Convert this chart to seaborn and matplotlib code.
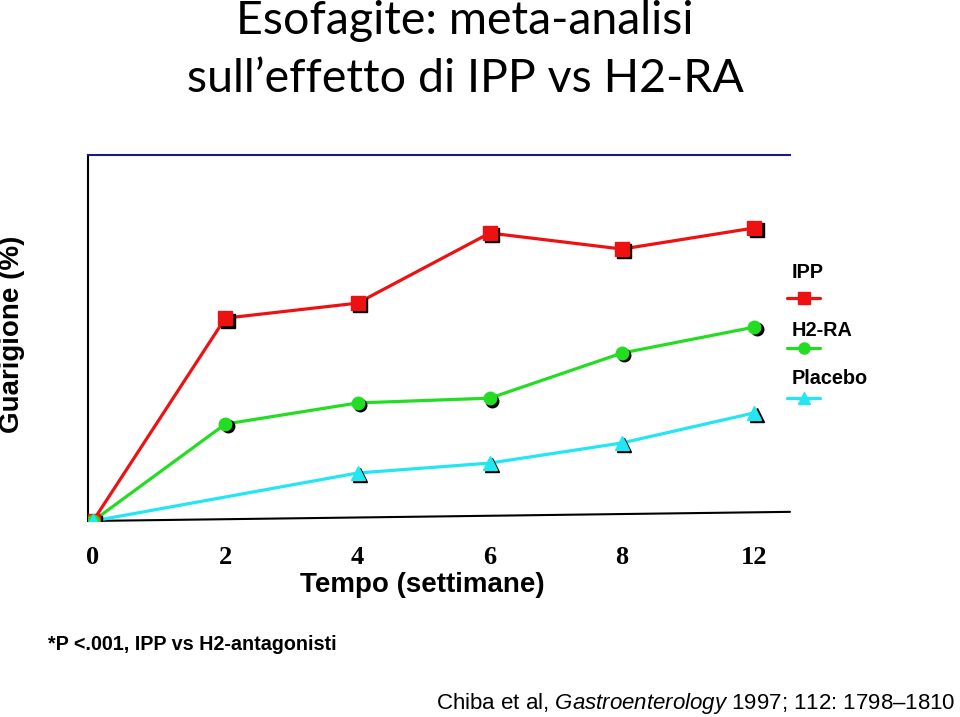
import matplotlib
matplotlib.use('Agg')
import matplotlib.pyplot as plt
import matplotlib.transforms as mtransforms
from matplotlib.lines import Line2D
import seaborn as sns
import pandas as pd
import numpy as np

# dati (guarigione %)
settimane = ['0', '2', '4', '6', '8', '12']
ipp = [0, 63.4, 68.1, 90.0, 85.0, 91.6]
h2ra = [0, 30.3, 36.9, 38.4, 52.5, 60.6]
placebo = [0, np.nan, 15.0, 18.1, 24.4, 33.8]

serie = ['IPP', 'H2-RA', 'Placebo']
colori = {'IPP': '#ee1111', 'H2-RA': '#22dd22', 'Placebo': '#22e6f2'}
marcatori = {'IPP': 's', 'H2-RA': 'o', 'Placebo': '^'}
dim_marc = {'IPP': 10, 'H2-RA': 9, 'Placebo': 10}

righe = []
for nome, valori in zip(serie, [ipp, h2ra, placebo]):
    for i, (s, v) in enumerate(zip(settimane, valori)):
        righe.append({'serie': nome, 'pos': i, 'settimana': s, 'guarigione': v})
df = pd.DataFrame(righe).dropna()

sns.set_style('white')
plt.rcParams['font.family'] = ['Liberation Sans', 'DejaVu Sans']
plt.rcParams['text.color'] = 'black'
plt.rcParams['xtick.color'] = 'black'
plt.rcParams['mathtext.fontset'] = 'custom'
plt.rcParams['mathtext.rm'] = 'Liberation Sans'
plt.rcParams['mathtext.it'] = 'Liberation Sans:italic'

fig = plt.figure(figsize=(9.6, 7.17), dpi=100)
ax = fig.add_axes([88 / 960, 1 - 521 / 717, 702 / 960, 366 / 717])

sns.lineplot(data=df, x='pos', y='guarigione', hue='serie', palette=colori,
             linewidth=2.3, legend=False, ax=ax, sort=False, zorder=2)

# marcatori con ombra nera
ombra = mtransforms.offset_copy(ax.transData, fig=fig, x=1.7, y=-1.7, units='points')
for nome in serie:
    d = df[df['serie'] == nome]
    ax.plot(d['pos'], d['guarigione'], linestyle='none', marker=marcatori[nome],
            markersize=dim_marc[nome], color='black', transform=ombra, zorder=3)
    ax.plot(d['pos'], d['guarigione'], linestyle='none', marker=marcatori[nome],
            markersize=dim_marc[nome], color=colori[nome], zorder=4)

ax.set_xlim(-0.038, 5.27)
ax.set_ylim(0, 114.4)
ax.set_xticks(range(len(settimane)))
ax.set_xticklabels(settimane, fontfamily='Liberation Serif', fontweight='bold', fontsize=19)
ax.tick_params(axis='x', length=0, pad=18, labelcolor='black')
ax.set_yticks([])
ax.set_xlabel('')
ax.set_ylabel('')

for lato in ['right', 'bottom']:
    ax.spines[lato].set_visible(False)
ax.spines['left'].set_color('black')
ax.spines['left'].set_linewidth(1.5)
ax.spines['top'].set_color('#1a1a80')
ax.spines['top'].set_linewidth(1.5)
# asse inferiore leggermente inclinato
ax.plot([0, 1], [0, 0.025], transform=ax.transAxes, color='black', lw=1.5, clip_on=False, zorder=1)

# legenda manuale a destra
for nome, yt, yl in zip(serie, [272, 330, 378], [298, 348, 398]):
    fig.text(792 / 960, 1 - yt / 717, nome, fontsize=14.3, fontweight='bold', va='center', ha='left')
    fig.add_artist(Line2D([787 / 960, 820 / 960], [1 - yl / 717] * 2, color=colori[nome], lw=2.3,
                          transform=fig.transFigure))
    fig.add_artist(Line2D([803.5 / 960], [1 - yl / 717], marker=marcatori[nome], markersize=dim_marc[nome] - 1,
                          color=colori[nome], linestyle='none', transform=fig.transFigure))

fig.text(422 / 960, 1 - 585 / 717, 'Tempo (settimane)', fontsize=20, fontweight='bold', ha='center', va='center')
fig.text(12 / 960, 1 - 334 / 717, 'Guarigione (%)', fontsize=20, fontweight='bold', rotation=90,
         ha='center', va='center')

fig.text(465 / 960, 1 - 21 / 717, 'Esofagite: meta-analisi', fontfamily=['Lato', 'DejaVu Sans'],
         fontsize=33.5, ha='center', va='center')
fig.text(465 / 960, 1 - 79 / 717, 'sull\u2019effetto di IPP vs H2-RA', fontfamily=['Lato', 'DejaVu Sans'],
         fontsize=33.5, ha='center', va='center')

fig.text(48 / 960, 1 - 645 / 717, '*P <.001, IPP vs H2-antagonisti', fontsize=14.2, fontweight='bold',
         ha='left', va='center')
fig.text(955 / 960, 1 - 703 / 717, 'Chiba et al, $\\mathit{Gastroenterology}$ 1997; 112: 1798\u20131810',
         fontsize=16, ha='right', va='center')

fig.savefig('out.png', dpi=100)
